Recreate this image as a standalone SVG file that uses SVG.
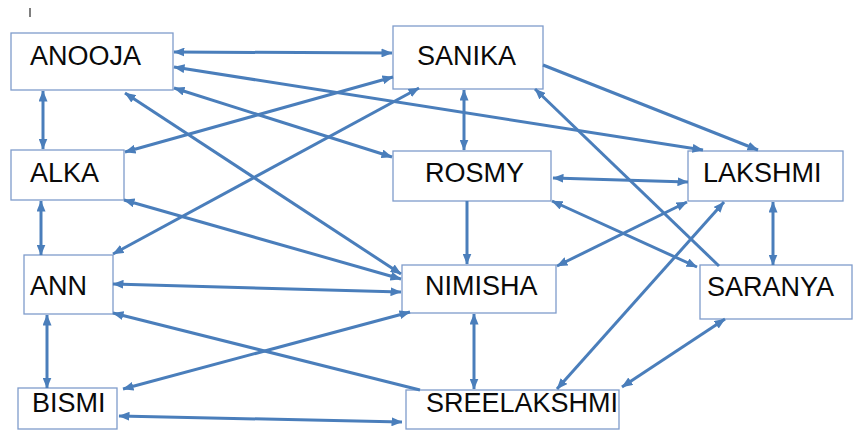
<svg xmlns="http://www.w3.org/2000/svg" width="856" height="430" viewBox="0 0 856 430">
  <style>
    .box { fill: #ffffff; stroke: #7f9ccb; stroke-width: 1.3; }
    .label { font-family: "Liberation Sans", Arial, sans-serif; font-size: 27px; fill: #0a0a0a; }
    .link { stroke: #4a7ebb; stroke-width: 3; fill: none; }
    .both { marker-start: url(#head); marker-end: url(#head); }
    .one { marker-end: url(#head); }
  </style>
  <defs>
    <marker id="head" viewBox="0 0 11 9" refX="10.5" refY="4.5" markerWidth="11" markerHeight="9" markerUnits="userSpaceOnUse" orient="auto-start-reverse">
      <path d="M0,0 L11,4.5 L0,9 z" fill="#4a7ebb"/>
    </marker>
  </defs>
  <rect width="856" height="430" fill="#ffffff"/>
  <line x1="30" y1="8" x2="30" y2="17" stroke="#555555" stroke-width="1.5"/>

  <!-- nodes -->
  <g id="anooja"><rect class="box" x="11" y="33" width="162" height="57"/><text class="label" x="30" y="65">ANOOJA</text></g>
  <g id="sanika"><rect class="box" x="393" y="26" width="150" height="63"/><text class="label" x="417" y="65">SANIKA</text></g>
  <g id="alka"><rect class="box" x="11" y="150" width="113" height="50"/><text class="label" x="30" y="182">ALKA</text></g>
  <g id="rosmy"><rect class="box" x="393" y="151" width="158" height="50"/><text class="label" x="425" y="182">ROSMY</text></g>
  <g id="lakshmi"><rect class="box" x="688" y="151" width="155" height="50"/><text class="label" x="703" y="182">LAKSHMI</text></g>
  <g id="ann"><rect class="box" x="24" y="255" width="89" height="59"/><text class="label" x="30" y="295">ANN</text></g>
  <g id="nimisha"><rect class="box" x="402" y="265" width="154" height="48"/><text class="label" x="425" y="295">NIMISHA</text></g>
  <g id="saranya"><rect class="box" x="700" y="265" width="152" height="54"/><text class="label" x="707" y="296">SARANYA</text></g>
  <g id="bismi"><rect class="box" x="18" y="388" width="99" height="41"/><text class="label" x="32" y="412">BISMI</text></g>
  <g id="sreelakshmi"><rect class="box" x="406" y="390" width="213" height="39"/><text class="label" x="426" y="412">SREELAKSHMI</text></g>

  <!-- connectors -->
  <g id="connectors">
    <line class="link both" x1="174" y1="52" x2="392" y2="53"/>
    <line class="link both" x1="174" y1="67" x2="703" y2="150"/>
    <line class="link both" x1="174" y1="88" x2="392" y2="157"/>
    <line class="link both" x1="125" y1="93" x2="401" y2="274"/>
    <line class="link both" x1="43" y1="91" x2="43" y2="149"/>
    <line class="link both" x1="125" y1="152" x2="393" y2="77"/>
    <line class="link both" x1="113" y1="254" x2="419" y2="88"/>
    <line class="link both" x1="464" y1="90" x2="464" y2="150"/>
    <line class="link one" x1="543" y1="65" x2="758" y2="150"/>
    <line class="link one" x1="719" y1="266" x2="535" y2="89"/>
    <line class="link both" x1="553" y1="178" x2="688" y2="182"/>
    <line class="link both" x1="552" y1="201" x2="697" y2="267"/>
    <line class="link one" x1="467" y1="201" x2="467" y2="264"/>
    <line class="link both" x1="687" y1="202" x2="557" y2="266"/>
    <line class="link both" x1="724" y1="202" x2="557" y2="389"/>
    <line class="link both" x1="773" y1="202" x2="773" y2="265"/>
    <line class="link both" x1="725" y1="319" x2="622" y2="387"/>
    <line class="link both" x1="41" y1="201" x2="41" y2="255"/>
    <line class="link both" x1="124" y1="200" x2="401" y2="279"/>
    <line class="link both" x1="113" y1="284" x2="401" y2="292"/>
    <line class="link one" x1="420" y1="390" x2="113" y2="313"/>
    <line class="link both" x1="47" y1="315" x2="47" y2="388"/>
    <line class="link both" x1="410" y1="312" x2="123" y2="389"/>
    <line class="link both" x1="119" y1="416" x2="402" y2="422"/>
    <line class="link both" x1="474" y1="314" x2="474" y2="389"/>
  </g>
</svg>
